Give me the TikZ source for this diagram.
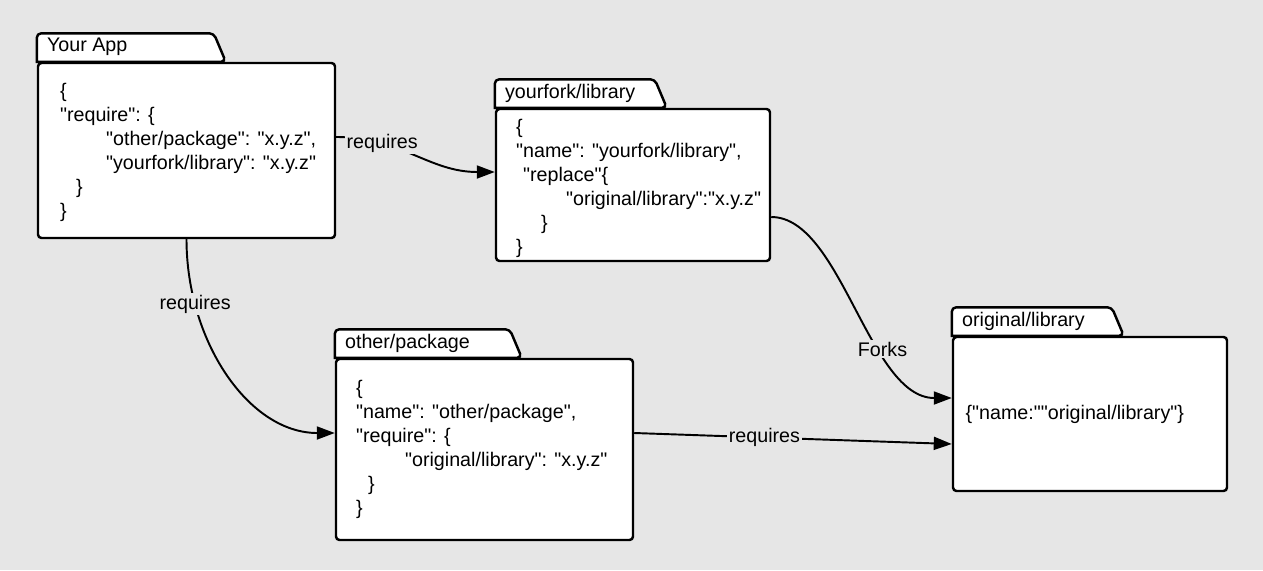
\documentclass[tikz,border=0pt]{standalone}
\usepackage{fontspec}
\setmainfont{Liberation Sans}[Ligatures=TeXOff]
\usetikzlibrary{arrows.meta}

\definecolor{canvas}{RGB}{230,230,230}

\tikzset{
    pkgbody/.style={draw=black, line width=1.4pt, rounded corners=0.07cm, fill=white,
        inner sep=0pt},
    pkgtab/.style={draw=black, line width=1.4pt, fill=white, rounded corners=0.09cm},
    pkgname/.style={anchor=south west, inner xsep=0.2cm, inner ysep=0pt,
        minimum height=0.57cm, font=\fontsize{11.2}{13}\selectfont},
    pkgtext/.style={anchor=west, align=left, inner sep=0pt,
        font=\fontsize{11.2}{13.66}\selectfont},
    link/.style={draw=black, line width=1.1pt, -{Triangle[length=3.6mm, width=2.6mm]}},
    linklabel/.style={fill=canvas, inner sep=1pt, font=\fontsize{11.2}{13}\selectfont},
}

\begin{document}
\begin{tikzpicture}
    \fill[canvas] (0,0) rectangle (25.26,-11.4);

    % package boxes
    \node[pkgbody, minimum width=5.94cm, minimum height=3.5cm] (app) at (3.73,-3.01) {};
    \node[pkgbody, minimum width=5.48cm, minimum height=3.04cm] (fork) at (12.66,-3.70) {};
    \node[pkgbody, minimum width=5.94cm, minimum height=3.62cm] (other) at (9.69,-8.99) {};
    \node[pkgbody, minimum width=5.48cm, minimum height=3.08cm] (orig) at (21.8,-8.28) {};

    % folder tabs
    \filldraw[pkgtab] (app.north west) -- ++(0,0.57) -- ++(3.54,0) -- ++(0.24,-0.57) [sharp corners] -- cycle;
    \filldraw[pkgtab] (fork.north west) -- ++(0,0.57) -- ++(3.2,0) -- ++(0.24,-0.57) [sharp corners] -- cycle;
    \filldraw[pkgtab] (other.north west) -- ++(0,0.57) -- ++(3.5,0) -- ++(0.24,-0.57) [sharp corners] -- cycle;
    \filldraw[pkgtab] (orig.north west) -- ++(0,0.57) -- ++(3.2,0) -- ++(0.24,-0.57) [sharp corners] -- cycle;

    \node[pkgname] (apptab) at (app.north west) {Your App};
    \node[pkgname] (forktab) at (fork.north west) {yourfork/library};
    \node[pkgname] (othertab) at (other.north west) {other/package};
    \node[pkgname] (origtab) at (orig.north west) {original/library};

    % contents
    \node[pkgtext] (apptext) at ([xshift=0.46cm,yshift=-0.04cm]app.west)
        {\{\\
         "require": \{\\
         \hspace*{0.92cm}"other/package": "x.y.z",\\
         \hspace*{0.92cm}"yourfork/library": "x.y.z"\\
         \hspace*{0.32cm}\}\\
         \}};
    \node[pkgtext] (forktext) at ([xshift=0.42cm,yshift=-0.06cm]fork.west)
        {\{\\
         "name": "yourfork/library",\\
         \hspace*{0.14cm}"replace"\{\\
         \hspace*{1.0cm}"original/library":"x.y.z"\\
         \hspace*{0.5cm}\}\\
         \}};
    \node[pkgtext] (othertext) at ([xshift=0.42cm]other.west)
        {\{\\
         "name": "other/package",\\
         "require": \{\\
         \hspace*{0.98cm}"original/library": "x.y.z"\\
         \hspace*{0.24cm}\}\\
         \}};
    \node[pkgtext] (origtext) at ([xshift=0.27cm]orig.west) {\{"name:""original/library"\}};

    % dependencies
    \draw[link] ([yshift=0.27cm]app.east) .. controls +(1.3,0) and +(-1.32,0) ..
        node[linklabel, pos=0.27] (req1) {requires} ([yshift=0.26cm]fork.west);
    \draw[link] (app.south) .. controls +(0,-2.04) and +(-1.72,0) ..
        node[linklabel, pos=0.22] (req2) {requires} ([yshift=0.33cm]other.west);
    \draw[link] ([yshift=-0.64cm]fork.east) .. controls +(1.4,0) and +(-1.66,0) ..
        node[linklabel, pos=0.66] (forks) {Forks} ([yshift=0.32cm]orig.west);
    \draw[link] ([yshift=0.33cm]other.east) --
        node[linklabel, pos=0.41] (req3) {requires} ([yshift=-0.6cm]orig.west);
\end{tikzpicture}
\end{document}
